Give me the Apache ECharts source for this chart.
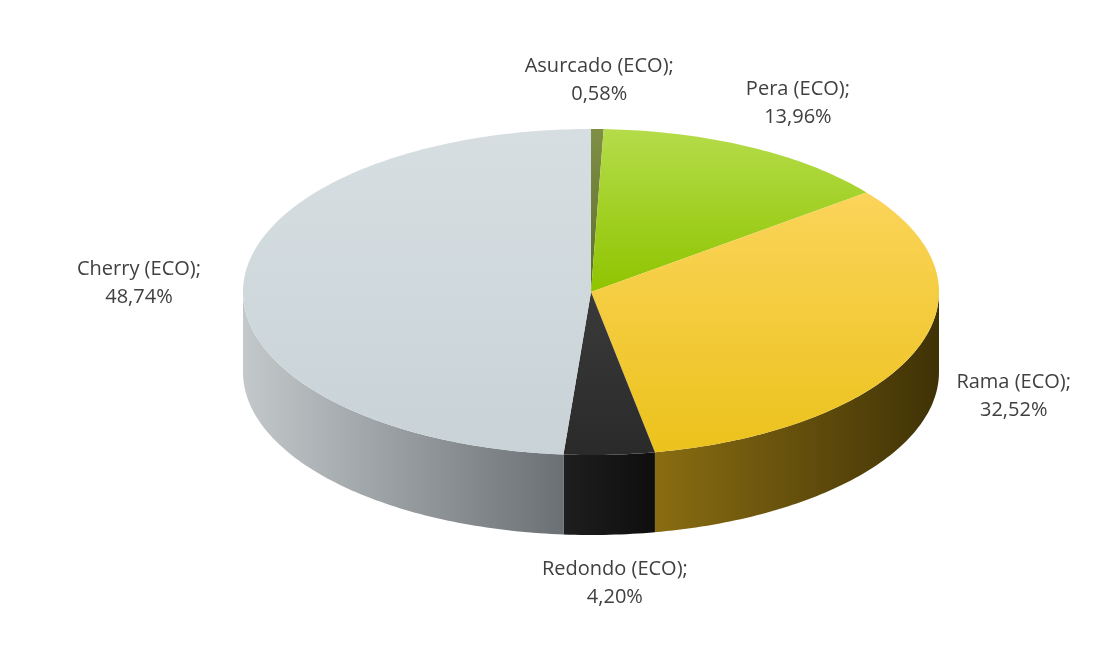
<!DOCTYPE html>
<html><head><meta charset="utf-8">
<script src="https://cdn.jsdelivr.net/npm/echarts@6/dist/echarts.min.js"></script>
<style>html,body{margin:0;padding:0;background:#fff}#c{width:1103px;height:647px}</style>
</head><body><div id="c"></div>
<script>
const categories = ['Asurcado (ECO)', 'Pera (ECO)', 'Rama (ECO)', 'Redondo (ECO)', 'Cherry (ECO)'];
const values = [0.58, 13.96, 32.52, 4.20, 48.74];
const labels = ['0,58%', '13,96%', '32,52%', '4,20%', '48,74%'];
const topColors = [['#7f8f45','#5f6d2c'], ['#b5dc4a','#8fc400'], ['#fbd45a','#ecc21c'], ['#3a3a3a','#2a2a2a'], ['#d6dee1','#c9d3d7']];
const sideColors = [['#56602a','#3c441c'], ['#6b8a10','#4f6a08'], ['#8a6d12','#3f3206'], ['#1e1e1e','#0e0e0e'], ['#c3c8cb','#6a7073']];

const CX = 591, CY = 292, RX = 348, RY = 163, DEPTH = 80;
const total = values.reduce((a, b) => a + b, 0);
const starts = []; let acc = 0;
values.forEach(v => { starts.push(acc / total * 360); acc += v; });
const pt = (deg, dy) => { const r = deg * Math.PI / 180; return [CX + RX * Math.sin(r), CY - RY * Math.cos(r) + (dy || 0)]; };
function arc(a0, a1, dy) { const pts = []; const n = Math.max(2, Math.ceil((a1 - a0) / 1)); for (let i = 0; i <= n; i++) pts.push(pt(a0 + (a1 - a0) * i / n, dy)); return pts; }

function sideItem(params, api) {
  const i = params.dataIndex;
  const a0 = starts[i], a1 = a0 + values[i] / total * 360;
  const s = Math.max(a0, 90), e = Math.min(a1, 270);
  if (e <= s) return { type: 'group', children: [] };
  const top = arc(s, e, 0), bot = arc(s, e, DEPTH).reverse();
  const xs = top.map(p => p[0]);
  const minx = Math.min(...xs), maxx = Math.max(...xs);
  const c = sideColors[i];
  const grad = i === 4 ? new echarts.graphic.LinearGradient(0, 0, 1, 0, [{offset: 0, color: c[0]}, {offset: 1, color: c[1]}])
                       : new echarts.graphic.LinearGradient(0, 0, 1, 0, [{offset: 0, color: c[0]}, {offset: 1, color: c[1]}]);
  return { type: 'polygon', shape: { points: top.concat(bot) }, style: { fill: grad, stroke: null } };
}
function topItem(params, api) {
  const i = params.dataIndex;
  const a0 = starts[i], a1 = a0 + values[i] / total * 360;
  const pts = [[CX, CY]].concat(arc(a0, a1, 0));
  const c = topColors[i];
  const mid = (a0 + a1) / 2, r = mid * Math.PI / 180;
  const f = 1.3;
  const lx = CX + RX * f * Math.sin(r);
  const ly = CY - RY * f * Math.cos(r) + DEPTH * Math.max(0, -Math.cos(r));
  return { type: 'group', children: [
    { type: 'polygon', shape: { points: pts }, style: { fill: new echarts.graphic.LinearGradient(0, 0, 0, 1, [{offset: 0, color: c[0]}, {offset: 1, color: c[1]}]), stroke: null } },
    { type: 'text', x: lx, y: ly, style: { text: categories[i] + ';\n' + labels[i], fill: '#404040', font: '20px "Open Sans", sans-serif', align: 'center', verticalAlign: 'middle', lineHeight: 28 } }
  ]};
}
const chart = echarts.init(document.getElementById('c'));
chart.setOption({
  backgroundColor: '#fff',
  animation: false,
  xAxis: { show: false }, yAxis: { show: false },
  series: [
    { type: 'custom', coordinateSystem: 'none', renderItem: sideItem, data: values, z: 1 },
    { type: 'custom', coordinateSystem: 'none', renderItem: topItem, data: values, z: 2 }
  ]
});
</script></body></html>
